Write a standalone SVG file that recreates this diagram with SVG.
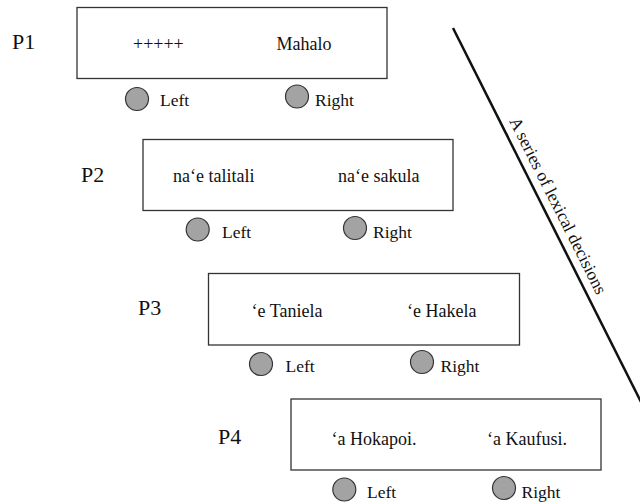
<svg xmlns="http://www.w3.org/2000/svg" width="640" height="503" viewBox="0 0 640 503">
<style>
text{font-family:"Liberation Serif","Times New Roman",serif;fill:#111}
.box{fill:#fff;stroke:#333;stroke-width:1.3}
.lbl{font-size:22px}
.word{font-size:18px}
.opt{font-size:17.5px}
.btn{fill:#a3a3a3;stroke:#333;stroke-width:1.2}
</style>
<rect width="640" height="503" fill="#fff"/>
<g id="P1">
<text class="lbl" x="12" y="49">P1</text>
<rect class="box" x="77" y="7.5" width="310" height="71"/>
<text class="word" x="133" y="50">+++++</text>
<text class="word" x="276.5" y="50">Mahalo</text>
<circle class="btn" cx="137" cy="99" r="11.5"/>
<text class="opt" x="160" y="105.5">Left</text>
<circle class="btn" cx="297" cy="96.5" r="11.5"/>
<text class="opt" x="315" y="105.5">Right</text>
</g>
<g id="P2">
<text class="lbl" x="81" y="182">P2</text>
<rect class="box" x="143" y="139.5" width="310" height="71"/>
<text class="word" x="173" y="182">na‘e talitali</text>
<text class="word" x="338" y="182">na‘e sakula</text>
<circle class="btn" cx="197.7" cy="229.5" r="11.5"/>
<text class="opt" x="222" y="237.5">Left</text>
<circle class="btn" cx="355" cy="228" r="11.5"/>
<text class="opt" x="373" y="237.5">Right</text>
</g>
<g id="P3">
<text class="lbl" x="138" y="315">P3</text>
<rect class="box" x="208.5" y="273.5" width="311" height="71.5"/>
<text class="word" x="251.5" y="316.5">‘e Taniela</text>
<text class="word" x="407" y="316.5">‘e Hakela</text>
<circle class="btn" cx="261" cy="364" r="11.5"/>
<text class="opt" x="285.5" y="371.5">Left</text>
<circle class="btn" cx="422" cy="362" r="11.5"/>
<text class="opt" x="440.5" y="371.5">Right</text>
</g>
<g id="P4">
<text class="lbl" x="218" y="443.5">P4</text>
<rect class="box" x="291" y="399" width="310" height="71"/>
<text class="word" x="331.5" y="445">‘a Hokapoi.</text>
<text class="word" x="487" y="445">‘a Kaufusi.</text>
<circle class="btn" cx="344.3" cy="489.5" r="11.5"/>
<text class="opt" x="367" y="497.5">Left</text>
<circle class="btn" cx="504" cy="488" r="11.5"/>
<text class="opt" x="521.5" y="497.5">Right</text>
</g>
<g id="connectors">
<line x1="453" y1="28" x2="641" y2="402" stroke="#111" stroke-width="2.5"/>
</g>
<g id="sequence-label">
<text transform="translate(509,121) rotate(63.3)" font-size="17.5px">A series of lexical decisions</text>
</g>
</svg>
